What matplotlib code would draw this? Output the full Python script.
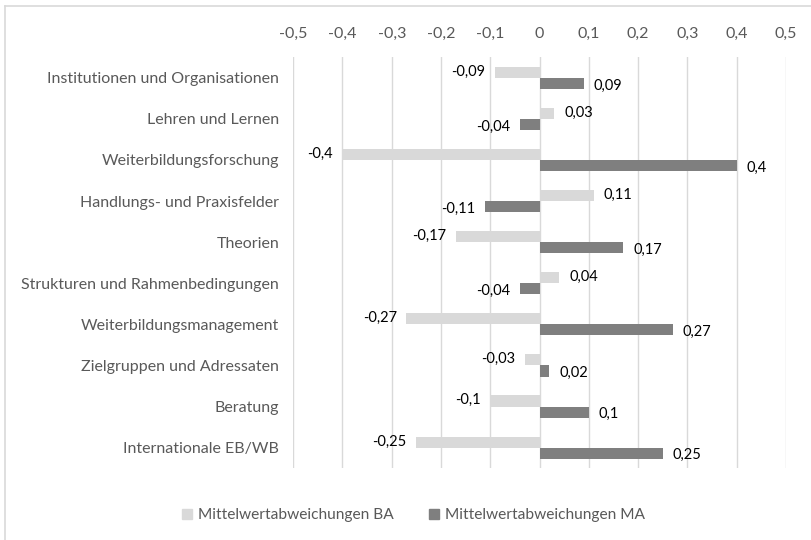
import numpy as np
import matplotlib.pyplot as plt
from matplotlib.lines import Line2D
from matplotlib.ticker import FuncFormatter

plt.rcParams['font.family'] = ['Lato', 'DejaVu Sans']

categories = ["Institutionen und Organisationen", "Lehren und Lernen",
              "Weiterbildungsforschung", "Handlungs- und Praxisfelder",
              "Theorien", "Strukturen und Rahmenbedingungen",
              "Weiterbildungsmanagement", "Zielgruppen und Adressaten",
              "Beratung", "Internationale EB/WB"]
ba = [-0.09, 0.03, -0.4, 0.11, -0.17, 0.04, -0.27, -0.03, -0.1, -0.25]
ma = [0.09, -0.04, 0.4, -0.11, 0.17, -0.04, 0.27, 0.02, 0.1, 0.25]
xticks = [-0.5, -0.4, -0.3, -0.2, -0.1, 0, 0.1, 0.2, 0.3, 0.4, 0.5]

c_ba = '#d9d9d9'
c_ma = '#7f7f7f'
grey_txt = '#595959'

def fmt(v):
    if v == 0:
        return "0"
    return ("%g" % v).replace('.', ',')

fig = plt.figure(figsize=(8.12, 5.4), dpi=100)
ax = fig.add_axes([0.361, 0.133, 0.607, 0.761])

y = np.arange(len(categories))
h = 0.27
ax.barh(y - h / 2, ba, height=h, color=c_ba, zorder=2)
ax.barh(y + h / 2, ma, height=h, color=c_ma, zorder=2)

for yi, v in zip(y - h / 2, ba):
    off = 7 if v > 0 else -7
    ax.annotate(fmt(v), (v, yi), xytext=(off, 0.5), textcoords='offset points',
                ha='left' if v > 0 else 'right', va='center', fontsize=10.5, color='#000000')
for yi, v in zip(y + h / 2, ma):
    off = 7 if v > 0 else -7
    ax.annotate(fmt(v), (v, yi), xytext=(off, -1.5), textcoords='offset points',
                ha='left' if v > 0 else 'right', va='center', fontsize=10.5, color='#000000')

ax.set_xlim(-0.5, 0.5)
ax.set_ylim(len(categories) - 0.5, -0.5)
ax.set_xticks(xticks)
ax.xaxis.set_major_formatter(FuncFormatter(lambda v, p: fmt(round(v, 1))))
ax.xaxis.tick_top()
ax.set_yticks(y)
ax.set_yticklabels(categories)
ax.tick_params(axis='both', length=0, labelsize=11.5, colors=grey_txt)
ax.tick_params(axis='x', pad=12)
ax.tick_params(axis='y', pad=10)
ax.grid(axis='x', color='#d9d9d9', lw=1, zorder=0)
for s in ax.spines.values():
    s.set_visible(False)

handles = [Line2D([], [], marker='s', ls='', color=c_ba, markersize=7),
           Line2D([], [], marker='s', ls='', color=c_ma, markersize=7)]
fig.legend(handles, ["Mittelwertabweichungen BA", "Mittelwertabweichungen MA"],
           loc='center', bbox_to_anchor=(0.503, 0.046), ncol=2, frameon=False,
           fontsize=11.2, labelcolor=grey_txt, handletextpad=-0.3, columnspacing=1.6)

fig.add_artist(Line2D([5 / 812, 1], [1 - 6 / 540, 1 - 6 / 540], color='#d9d9d9', lw=1.2,
                      transform=fig.transFigure))
fig.add_artist(Line2D([5 / 812, 5 / 812], [0, 1 - 6 / 540], color='#d9d9d9', lw=1.2,
                      transform=fig.transFigure))

fig.savefig("out.png", dpi=100)
